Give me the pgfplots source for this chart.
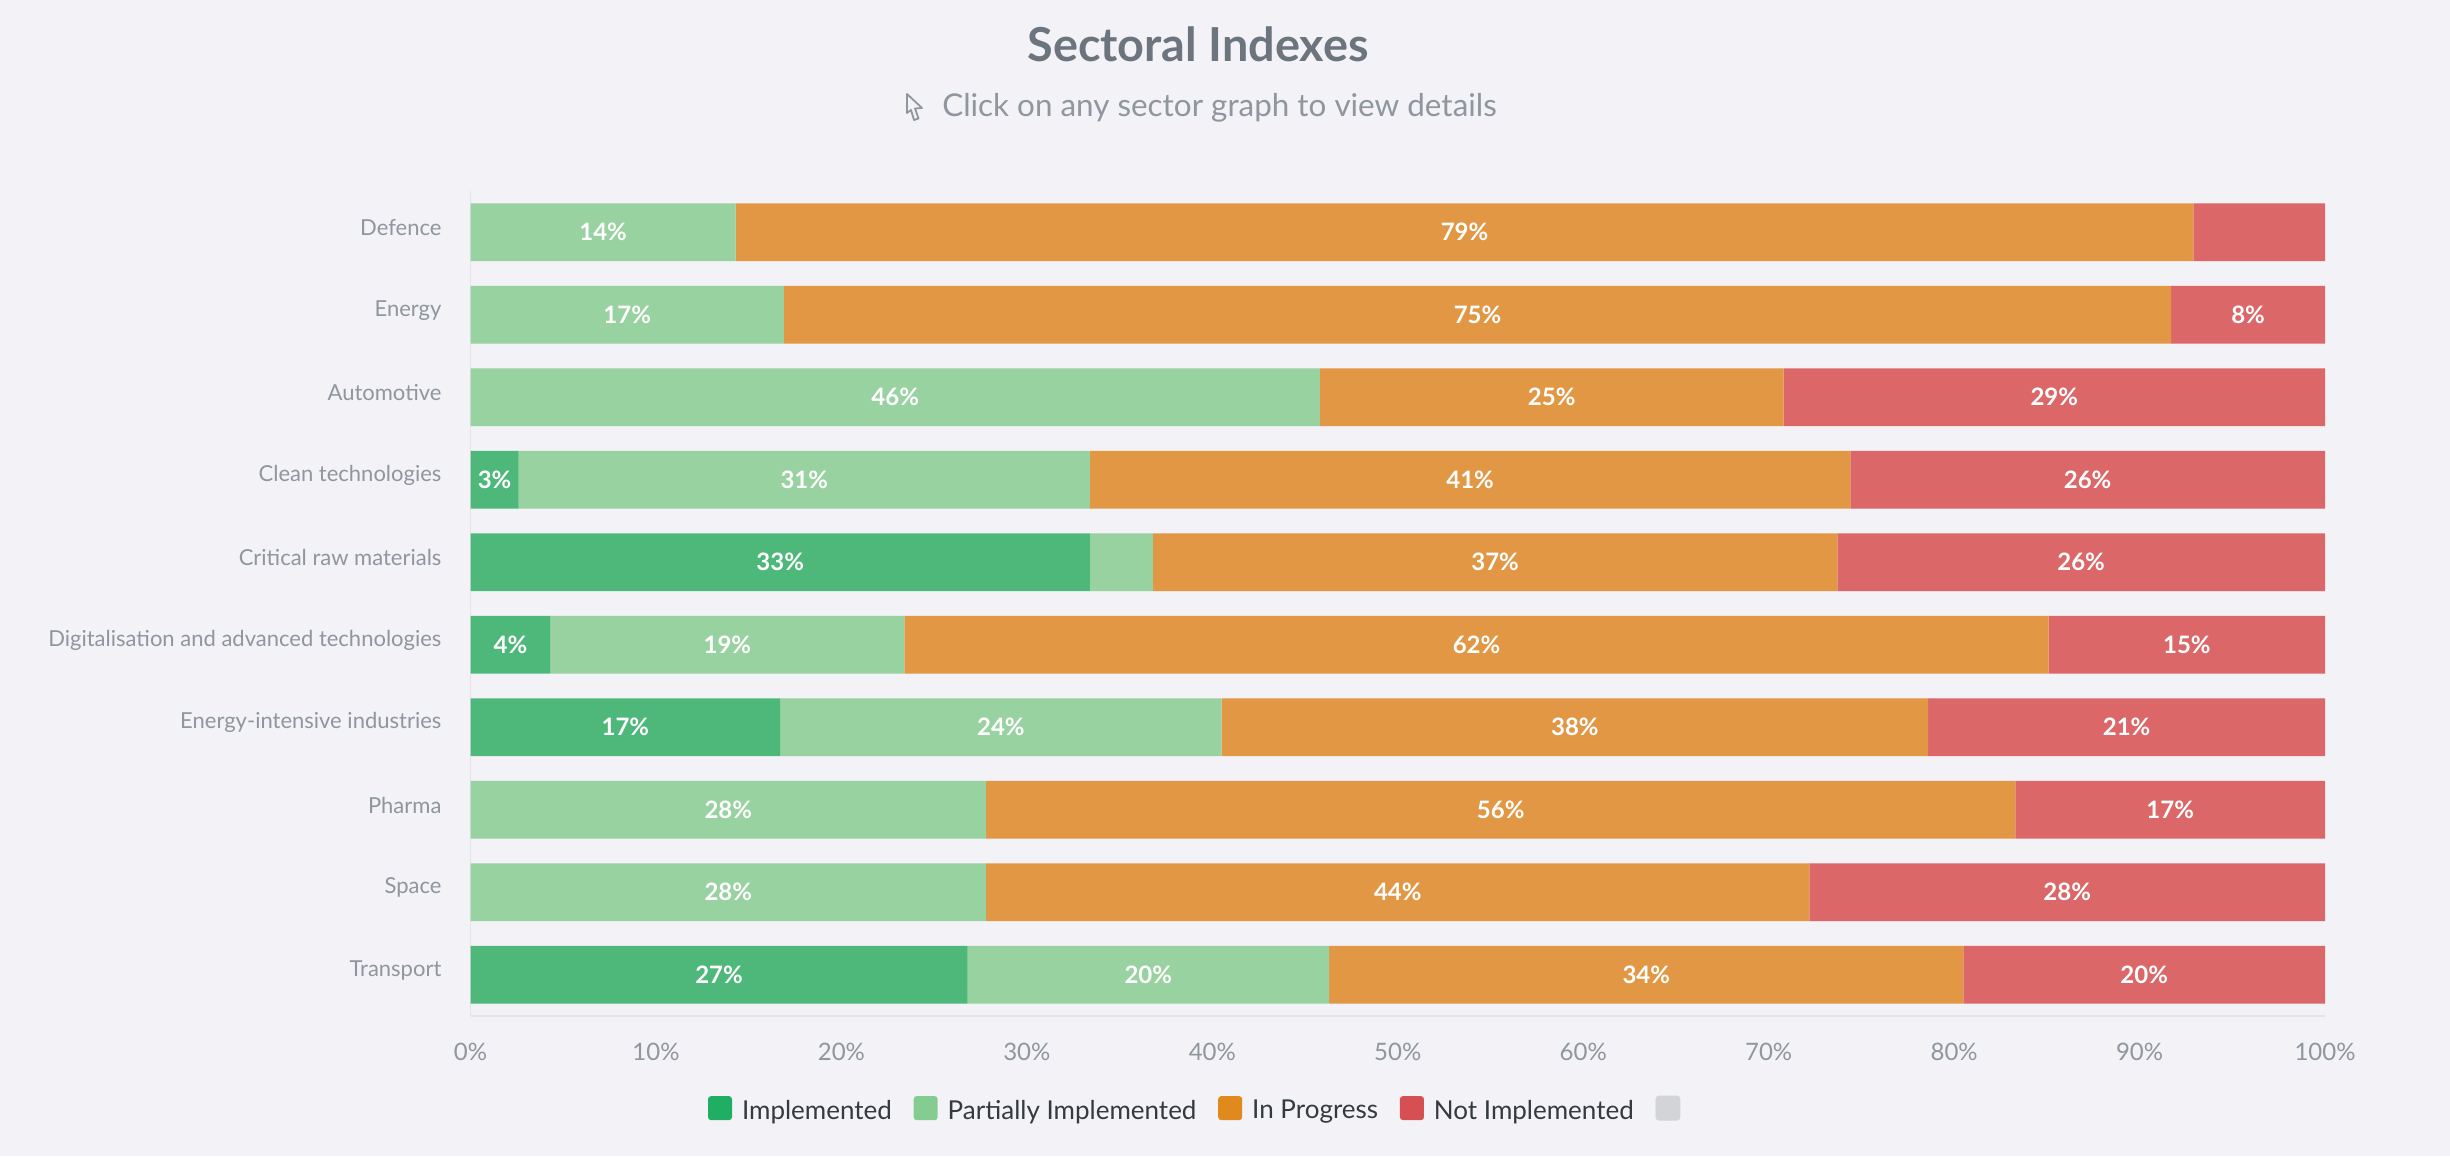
\documentclass[border=0pt]{standalone}
\usepackage{pgfplots}
\pgfplotsset{compat=1.18}
\usepackage{fontspec}
\setmainfont{Lato}[BoldFont=Lato Bold]

\definecolor{bg}{HTML}{F2F2F7}
\definecolor{barA}{HTML}{4EB87B}
\definecolor{barB}{HTML}{98D2A0}
\definecolor{barC}{HTML}{E29745}
\definecolor{barD}{HTML}{DC6768}
\definecolor{legA}{HTML}{20AF62}
\definecolor{legB}{HTML}{85CC91}
\definecolor{legC}{HTML}{E08A1E}
\definecolor{legD}{HTML}{D64F52}
\definecolor{legE}{HTML}{D2D4D8}
\definecolor{titlegrey}{HTML}{6C757D}
\definecolor{labelgrey}{HTML}{8F969D}
\definecolor{linegrey}{HTML}{E3E3E8}
\definecolor{legtext}{HTML}{343A40}

\newcommand{\swatch}[1]{\fill[#1,rounded corners=1.5pt] (0pt,-4.5pt) rectangle (12pt,7.5pt);}

\begin{document}
\begin{tikzpicture}
  % page: 1 reference pixel = 0.5pt
  \path[use as bounding box,fill=bg] (0,0) rectangle (1225pt,578pt);
  \begin{scope}[x=0.5pt,y=-0.5pt,shift={(0pt,578pt)}]
    \node[anchor=base,text=titlegrey,font=\fontsize{23.4}{28}\selectfont\bfseries,inner sep=0pt] at (1198,62) {Sectoral Indexes};
    \node[anchor=base,text=labelgrey,font=\fontsize{15.7}{19}\selectfont,inner sep=0pt] at (1219.5,117) {Click on any sector graph to view details};
    \draw[labelgrey,line width=0.9pt,line join=round,fill=bg]
      (907,94) -- (907,113) -- (911,110) -- (914,120) -- (918.5,118.5) -- (915,108.5) -- (922,108) -- cycle;
  \end{scope}
  \begin{axis}[
      at={(235.25pt,70pt)}, anchor=south west,
      scale only axis, width=927.25pt, height=412.5pt,
      xbar stacked, bar width=28.85pt,
      xmin=0, xmax=100, ymin=-0.5, ymax=9.5,
      axis x line*=bottom, axis y line*=left,
      axis line style={draw=linegrey,line width=0.8pt,-},
      tickwidth=0pt,
      xtick={0,10,...,100},
      xticklabels={0\%,10\%,20\%,30\%,40\%,50\%,60\%,70\%,80\%,90\%,100\%},
      ytick={0,...,9},
      yticklabels={Transport,Space,Pharma,Energy-intensive industries,Digitalisation and advanced technologies,Critical raw materials,Clean technologies,Automotive,Energy,Defence},
      x tick label style={font=\fontsize{12}{14}\selectfont,text=labelgrey,yshift=-10pt},
      y tick label style={font=\fontsize{11}{13}\selectfont,text=labelgrey,xshift=-11pt,yshift=2.3pt},
      point meta=explicit symbolic,
      nodes near coords={\pgfplotspointmeta},
      every node near coord/.append style={font=\fontsize{12}{14}\selectfont\bfseries,text=white},
      legend columns=-1,
      legend style={
        at={(0.12807,-0.1127)}, anchor=west,
        draw=none, fill=none, inner sep=0pt, outer sep=0pt,
        font=\fontsize{13}{15}\selectfont, text=legtext,
        nodes={inner sep=0pt},
        /tikz/every odd column/.append style={column sep=5pt},
        /tikz/every even column/.append style={column sep=10.9pt},
      },
    ]
    \addplot[draw=none,fill=barA,legend image code/.code={\swatch{legA}}] coordinates {
      (26.8,0) [27\%] (0,1) [] (0,2) [] (16.7,3) [17\%] (4.3,4) [4\%]
      (33.4,5) [33\%] (2.6,6) [3\%] (0,7) [] (0,8) [] (0,9) []};
    \addlegendentry{Implemented}
    \addplot[draw=none,fill=barB,legend image code/.code={\swatch{legB}}] coordinates {
      (19.5,0) [20\%] (27.8,1) [28\%] (27.8,2) [28\%] (23.8,3) [24\%] (19.1,4) [19\%]
      (3.4,5) [] (30.8,6) [31\%] (45.8,7) [46\%] (16.9,8) [17\%] (14.3,9) [14\%]};
    \addlegendentry{Partially Implemented}
    \addplot[draw=none,fill=barC,legend image code/.code={\swatch{legC}}] coordinates {
      (34.2,0) [34\%] (44.4,1) [44\%] (55.5,2) [56\%] (38.1,3) [38\%] (61.7,4) [62\%]
      (36.9,5) [37\%] (41.0,6) [41\%] (25.0,7) [25\%] (74.8,8) [75\%] (78.6,9) [79\%]};
    \addlegendentry{In Progress}
    \addplot[draw=none,fill=barD,legend image code/.code={\swatch{legD}}] coordinates {
      (19.5,0) [20\%] (27.8,1) [28\%] (16.7,2) [17\%] (21.4,3) [21\%] (14.9,4) [15\%]
      (26.3,5) [26\%] (25.6,6) [26\%] (29.2,7) [29\%] (8.3,8) [8\%] (7.1,9) []};
    \addlegendentry{Not Implemented}
    \addlegendimage{legend image code/.code={\swatch{legE}}}
    \addlegendentry{}
  \end{axis}
\end{tikzpicture}
\end{document}
